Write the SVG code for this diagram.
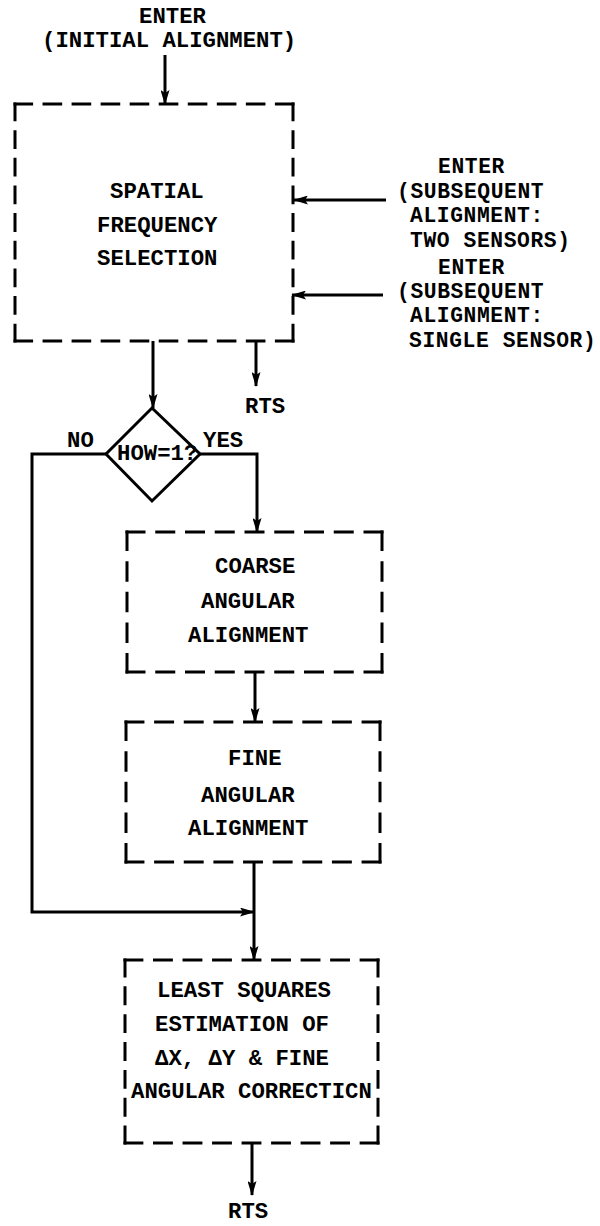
<svg xmlns="http://www.w3.org/2000/svg" width="600" height="1226" viewBox="0 0 600 1226">
<style>
  text { font-family: "Liberation Mono", "DejaVu Sans Mono", monospace; font-weight: bold; font-size: 22.3px; fill: #000; }
  .small { font-size: 21.3px; letter-spacing: 0.6px; }
  .dash { stroke: #000; stroke-width: 3; stroke-dasharray: 16 12; stroke-linecap: square; fill: none; }
  .conn { stroke: #000; stroke-width: 3; fill: none; marker-end: url(#arr); }
  .plain { stroke: #000; stroke-width: 3; fill: none; }
</style>
<defs>
  <marker id="arr" viewBox="0 0 15 9" refX="14" refY="4.5" markerWidth="15" markerHeight="9" markerUnits="userSpaceOnUse" orient="auto">
    <path d="M0,0 L15,4.5 L0,9 L3,4.5 z" fill="#000"/>
  </marker>
</defs>
<rect width="600" height="1226" fill="#fff"/>

<g id="enter-initial">
  <text x="139" y="23">ENTER</text>
  <text x="42" y="47">(INITIAL ALIGNMENT)</text>
</g>

<g id="enter-two">
  <text class="small" x="438" y="173">ENTER</text>
  <text class="small" x="397" y="198">(SUBSEQUENT</text>
  <text class="small" x="410" y="222">ALIGNMENT:</text>
  <text class="small" x="410" y="247">TWO SENSORS)</text>
</g>

<g id="enter-single">
  <text class="small" x="438" y="274">ENTER</text>
  <text class="small" x="397" y="298">(SUBSEQUENT</text>
  <text class="small" x="410" y="322">ALIGNMENT:</text>
  <text class="small" x="409" y="347">SINGLE SENSOR)</text>
</g>

<g id="spatial">
  <line class="dash" x1="15" y1="104" x2="293" y2="104" pathLength="268"/>
  <line class="dash" x1="15" y1="341" x2="293" y2="341" pathLength="268"/>
  <line class="dash" x1="15" y1="104" x2="15" y2="341" pathLength="240"/>
  <line class="dash" x1="293" y1="104" x2="293" y2="341" pathLength="240"/>
  <text x="110" y="198">SPATIAL</text>
  <text x="97" y="232">FREQUENCY</text>
  <text x="97" y="265">SELECTION</text>
</g>

<g id="rts1">
  <text x="245" y="413">RTS</text>
</g>

<g id="decision">
  <polygon points="152,408 200,454 152,501 106,454" class="plain"/>
  <text x="117" y="460">HOW=1?</text>
  <text x="67" y="447">NO</text>
  <text x="203" y="447">YES</text>
</g>

<g id="coarse">
  <line class="dash" x1="127" y1="532" x2="382" y2="532" pathLength="240"/>
  <line class="dash" x1="127" y1="672" x2="382" y2="672" pathLength="240"/>
  <line class="dash" x1="127" y1="532" x2="127" y2="672" pathLength="128"/>
  <line class="dash" x1="382" y1="532" x2="382" y2="672" pathLength="128"/>
  <text x="215" y="573">COARSE</text>
  <text x="201" y="608">ANGULAR</text>
  <text x="188" y="642">ALIGNMENT</text>
</g>

<g id="fine">
  <line class="dash" x1="126" y1="722" x2="380" y2="722" pathLength="240"/>
  <line class="dash" x1="126" y1="862" x2="380" y2="862" pathLength="240"/>
  <line class="dash" x1="126" y1="722" x2="126" y2="862" pathLength="128"/>
  <line class="dash" x1="380" y1="722" x2="380" y2="862" pathLength="128"/>
  <text x="228" y="765">FINE</text>
  <text x="201" y="802">ANGULAR</text>
  <text x="188" y="835">ALIGNMENT</text>
</g>

<g id="least-squares">
  <line class="dash" x1="125" y1="960" x2="378" y2="960" pathLength="240"/>
  <line class="dash" x1="125" y1="1143" x2="378" y2="1143" pathLength="240"/>
  <line class="dash" x1="125" y1="960" x2="125" y2="1143" pathLength="184"/>
  <line class="dash" x1="378" y1="960" x2="378" y2="1143" pathLength="184"/>
  <text x="157" y="997">LEAST SQUARES</text>
  <text x="155" y="1031">ESTIMATION OF</text>
  <text x="155" y="1065">ΔX, ΔY &amp; FINE</text>
  <text x="131" y="1098">ANGULAR CORRECTICN</text>
</g>

<g id="rts2">
  <text x="228" y="1218">RTS</text>
</g>

<g id="connectors">
  <line class="conn" x1="165" y1="55" x2="165" y2="104"/>
  <line class="conn" x1="386" y1="200" x2="294" y2="200"/>
  <line class="conn" x1="383" y1="295" x2="292" y2="295"/>
  <line class="conn" x1="153" y1="341" x2="153" y2="408"/>
  <line class="conn" x1="256" y1="341" x2="256" y2="386"/>
  <path class="conn" d="M200,454 H257 V532"/>
  <path class="conn" d="M106,454 H32 V912 H254"/>
  <line class="conn" x1="255" y1="672" x2="255" y2="722"/>
  <line class="plain" x1="254" y1="862" x2="254" y2="912"/>
  <line class="conn" x1="254" y1="912" x2="254" y2="960"/>
  <line class="conn" x1="252" y1="1143" x2="252" y2="1195"/>
</g>
</svg>
